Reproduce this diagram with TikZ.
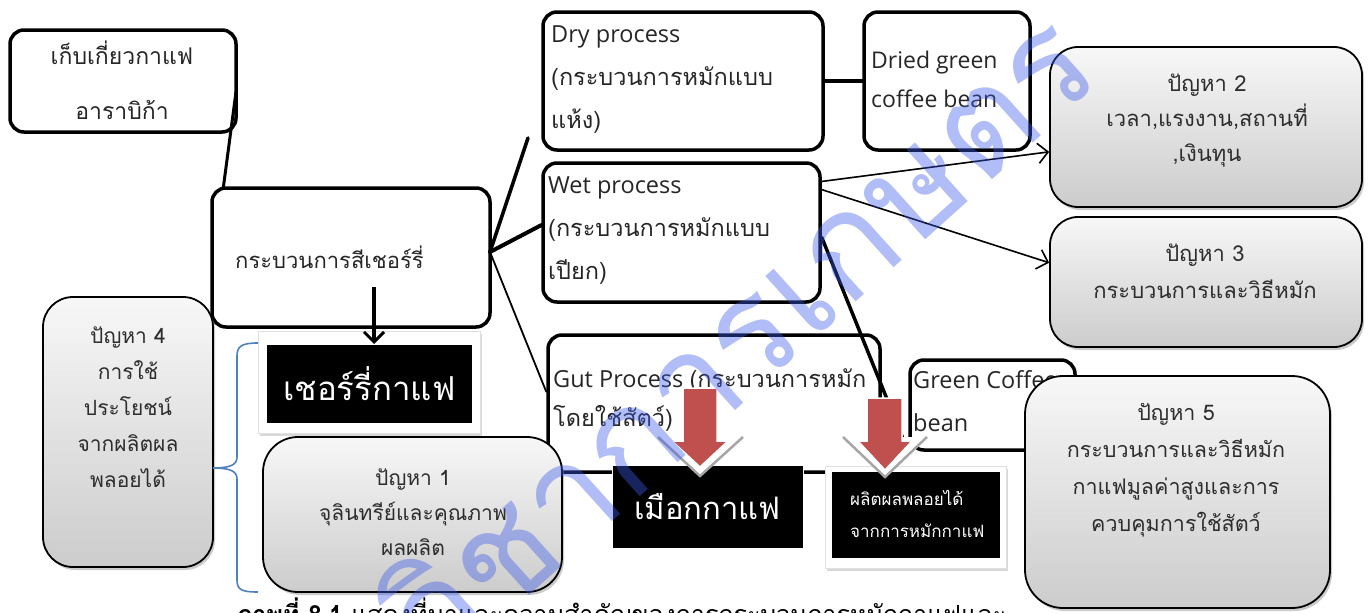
\documentclass[tikz,border=0pt]{standalone}
\usepackage{fontspec}
\setmainfont{Loma}[Script=Thai]
\newfontfamily\lat{Open Sans}
\usetikzlibrary{arrows.meta,shadows,calc}
\definecolor{redarrow}{RGB}{192,80,77}
\definecolor{bracecol}{RGB}{79,129,189}
\definecolor{ptextc}{RGB}{45,45,45}
\definecolor{wmark}{RGB}{60,90,235}
\tikzset{
  wbox/.style={draw=black, line width=3.5pt, rounded corners=14pt, fill=white, inner sep=0pt},
  pbox/.style={draw=black, line width=1.8pt, rounded corners=28pt, top color=gray!6, bottom color=gray!40, inner sep=0pt,
    drop shadow={shadow xshift=2pt, shadow yshift=-3pt, fill=black!40}},
  ptxt/.style={text=ptextc, align=center, inner sep=0pt},
  btxt/.style={anchor=west, align=left, inner sep=0pt, text=black!85},
  blk/.style={fill=black, text=white, inner sep=0pt},
  panel/.style={fill=white, draw=black!12, line width=0.6pt, drop shadow={shadow xshift=1.5pt, shadow yshift=-2.5pt, fill=black!30}},
  conn/.style={draw=black, line cap=round},
  warrow/.style={draw=black, line width=1.5pt, -{Straight Barb[length=10pt,width=20pt,line width=1.5pt]}},
  wshadow/.style={draw=black!35, line width=1.5pt, -{Straight Barb[length=10pt,width=20pt,line width=1.5pt]}},
  redarr/.style={fill=redarrow, draw=white, line width=1.5pt, line join=miter},
  chev/.style={draw=black!35, line width=2.5pt, fill=white, line join=miter},
  bracest/.style={draw=bracecol, line width=1.6pt},
}
\begin{document}
\begin{tikzpicture}[x=1pt,y=-1pt]
\useasboundingbox (0,0) rectangle (1368,613);
\clip (0,0) rectangle (1368,613);
\fill[white] (0,0) rectangle (1368,613);

% caption (partly hidden)
\node[anchor=base west, inner sep=0pt, font=\fontsize{25}{25}\selectfont] (cap) at (236,623)
  {\textbf{ภาพที่ 8.1} แสดงที่มาและความสำคัญของการกระบวนการหมักกาแฟและ};

% box 1
\node[wbox, minimum width=226, minimum height=102] (b1) at (123,81) {};
\node[ptxt, text=black!85, font=\fontsize{23}{55}\selectfont] (b1t) at (122,80) {เก็บเกี่ยวกาแฟ\\อาราบิก้า};

% gut box (behind)
\node[wbox, minimum width=332, minimum height=137] (gut) at (714,403.5) {};
\node[btxt, font=\fontsize{23.5}{39}\selectfont] (gutt) at (553,400) {{\lat Gut Process }(กระบวนการหมัก\\โดยใช้สัตว์)};

% connectors from cherry process box
\coordinate (hub) at (490,252);
\coordinate (dryend) at (528,138);
\coordinate (b1out) at (236,92);
\coordinate (b2top) at (223,190);
\draw[conn, line width=3pt] (b1out) -- (b2top);

% box 2
\node[wbox, minimum width=278, minimum height=139] (b2) at (351,257.5) {};
\node[btxt, font=\fontsize{22}{40}\selectfont] (b2t) at (235,257) {กระบวนการสีเชอร์รี่};

% dry, dried, wet
\node[wbox, minimum width=280, minimum height=138] (dry) at (683,81) {};
\node[btxt, font=\fontsize{23.5}{43}\selectfont] (dryt) at (551,80) {{\lat Dry process}\\(กระบวนการหมักแบบ\\แห้ง)};
\node[wbox, minimum width=166, minimum height=138] (dried) at (947,81) {};
\node[btxt, font=\fontsize{23}{39}\selectfont] (driedt) at (871,79) {{\lat Dried green}\\{\lat coffee bean}};
\node[wbox, minimum width=277, minimum height=139] (wet) at (681.5,232.5) {};
\node[btxt, font=\fontsize{23.5}{43}\selectfont] (wett) at (548,231) {{\lat Wet process}\\(กระบวนการหมักแบบ\\เปียก)};

\draw[conn, line width=3.5pt] (hub) -- (dryend);
\draw[conn, line width=4pt] (hub) -- (wet.177);
\draw[conn, line width=1.8pt] (hub) -- (gut.176);
\draw[conn, line width=4pt] (dry.east) -- (dried.west);

% green coffee bean
\node[wbox, minimum width=165, minimum height=90] (green) at (992.5,405) {};
\node[btxt, font=\fontsize{23.5}{43}\selectfont] (greent) at (913,401) {{\lat Green Coffee}\\{\lat bean}};
\draw[conn, line width=3.5pt] (wet.-2) -- (green.south west);

% problem 2, 3
\node[pbox, minimum width=312, minimum height=160] (p2) at (1206,127) {};
\node[ptxt, font=\fontsize{22}{35}\selectfont] (p2t) at (1207,121) {ปัญหา 2\\เวลา,แรงงาน,สถานที่\\,เงินทุน};
\node[pbox, minimum width=312, minimum height=130] (p3) at (1206,282) {};
\node[ptxt, font=\fontsize{22}{37}\selectfont] (p3t) at (1205,271) {ปัญหา 3\\กระบวนการและวิธีหมัก};
\draw[wshadow, shift={(1.5,2.5)}] (wet.20) -- (p2.189);
\draw[warrow] (wet.20) -- (p2.189);
\draw[wshadow, shift={(1.5,2.5)}] (wet.17) -- (p3.173);
\draw[warrow] (wet.17) -- (p3.173);

% problem 5
\node[pbox, rounded corners=38pt, minimum width=305, minimum height=232] (p5) at (1177.5,492) {};
\node[ptxt, font=\fontsize{21.5}{37}\selectfont] (p5t) at (1176,470) {ปัญหา 5\\กระบวนการและวิธีหมัก\\กาแฟมูลค่าสูงและการ\\ควบคุมการใช้สัตว์};

% cherry coffee black box
\node[panel, minimum width=222, minimum height=102, inner sep=0pt] (cherrypanel) at (369.5,382) {};
\node[blk, minimum width=205, minimum height=78, font=\fontsize{33}{33}\selectfont] (cherry) at (369.5,384) {เชอร์รี่กาแฟ};
\coordinate (arrs) at (374,287);
\coordinate (arre) at (374,344);
\draw[line width=4pt, -{Straight Barb[length=10pt,width=20pt,line width=3pt]}] (arrs) -- (arre);

% problem 1
\node[pbox, rounded corners=35pt, minimum width=299, minimum height=155] (p1) at (412.5,514.5) {};
\node[ptxt, font=\fontsize{21}{35}\selectfont] (p1t) at (413,512) {ปัญหา 1\\จุลินทรีย์และคุณภาพ\\ผลผลิต};

% problem 4
\node[pbox, rounded corners=30pt, minimum width=170, minimum height=270] (p4) at (128,432) {};
\node[ptxt, font=\fontsize{21}{36}\selectfont] (p4t) at (128,407) {ปัญหา 4\\การใช้\\ประโยชน์\\จากผลิตผล\\พลอยได้};

% brace
\coordinate (brtip) at (213,468);
\draw[bracest] (258,343) .. controls (242,343) and (237,346) .. (237,356) -- (237,457)
  .. controls (237,465) and (230,468) .. (brtip)
  .. controls (230,468) and (237,471) .. (237,479) -- (237,580)
  .. controls (237,590) and (242,592) .. (258,592);

% mucilage black box
\node[blk, draw=white, line width=1pt, minimum width=191, minimum height=83, font=\fontsize{31}{31}\selectfont] (muc) at (707.5,506.5) {เมือกกาแฟ};

% by-product black box
\node[panel, minimum width=181, minimum height=102, inner sep=0pt] (bypanel) at (915.5,517) {};
\node[blk, minimum width=168, minimum height=86] (byp) at (916,515) {};
\node[btxt, text=white, font=\fontsize{17}{32}\selectfont] (bypt) at (850,514) {ผลิตผลพลอยได้\\จากการหมักกาแฟ};

% red arrows with chevron shadow
\draw[chev] (658,437) -- (700,476) -- (743,437);
\draw[redarr] (683,388) -- (717,388) -- (717,441) -- (728,441) -- (700,467) -- (672,441) -- (683,441) -- cycle;
\draw[chev] (843,437) -- (885,477) -- (927,437);
\draw[redarr] (867,398) -- (902,398) -- (902,441) -- (912,441) -- (885,470) -- (858,441) -- (867,441) -- cycle;

% watermark
\node[rotate=42, text=wmark, text opacity=0.4, inner sep=0pt, font=\fontsize{142}{142}\selectfont] (wm) at (735,335) {วิชาการเกษตร};
\end{tikzpicture}
\end{document}
